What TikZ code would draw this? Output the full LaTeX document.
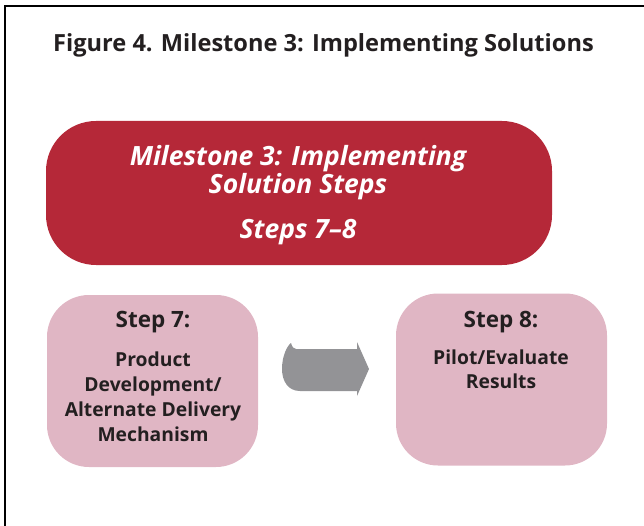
\documentclass[tikz,border=0pt]{standalone}
\usepackage{fontspec}
\setmainfont[Ligatures=NoCommon]{Open Sans}
\usetikzlibrary{positioning}

\definecolor{milestonered}{rgb}{0.710000, 0.157000, 0.220000}
\definecolor{steppink}{rgb}{0.878000, 0.714000, 0.769000}
\definecolor{arrowgray}{rgb}{0.576000, 0.576000, 0.588000}
\definecolor{textdark}{rgb}{0.137000, 0.122000, 0.125000}

\newlength{\du}
\setlength{\du}{1pt}

\tikzset{
  milestonebox/.style={fill=milestonered, draw=none, rounded corners=50\du,
    minimum width=506\du, minimum height=144\du, inner sep=0pt},
  stepbox/.style={fill=steppink, draw=none, rounded corners=42\du,
    minimum width=211\du, minimum height=172\du, inner sep=0pt},
  stephead/.style={anchor=base, inner sep=0pt, text=textdark, font=\bfseries\fontsize{22.5}{26}\selectfont},
  steptext/.style={anchor=north, inner sep=0pt, align=center, text=textdark, font=\bfseries\fontsize{19.3}{25}\selectfont},
}

\begin{document}
\begin{tikzpicture}
\pgftransformxscale{1.000000}
\pgftransformyscale{-1.000000}
\useasboundingbox (0\du,0\du) rectangle (644\du,526\du);
% frame
\draw[line width=2.5\du, color=black] (644\du,6\du)--(5\du,6\du)--(5\du,526\du);
% title
\node[text=textdark, font=\bfseries\fontsize{23.6}{28}\selectfont] (title) at (323.5\du,45\du){Figure 4. Milestone 3: Implementing Solutions};
% milestone box
\node[milestonebox] (milestone) at (299\du,193\du){};
\node[anchor=north, inner sep=0pt, align=center, text=white, font=\bfseries\itshape\fontsize{26.5}{28}\selectfont] (milestonetext) at (298\du,145\du){Milestone 3: Implementing\\Solution Steps\\[17\du]Steps 7--8};
% step boxes
\node[stepbox] (step7) at (152.5\du,381\du){};
\node[stepbox] (step8) at (501.5\du,379.5\du){};
\node[stephead] (step7head) at (153\du,327\du){Step 7:};
\node[steptext] (step7text) at (153\du,352\du){Product\\Development/\\Alternate Delivery\\Mechanism};
\node[stephead] (step8head) at (501\du,327\du){Step 8:};
\node[steptext, font=\bfseries\fontsize{19.3}{23.5}\selectfont] (step8text) at (501\du,350\du){Pilot/Evaluate\\Results};
% arrow
\fill[arrowgray] (296\du,349\du)--(357\du,349\du)--(357\du,342\du)--(369\du,369\du)--(357\du,396\du)--(357\du,391\du)--(300\du,391\du)
  .. controls (288\du,391\du) and (282\du,381\du) .. (282\du,369\du)
  .. controls (282\du,356\du) and (287\du,346\du) .. (291\du,343\du)
  .. controls (292\du,347\du) and (294\du,349\du) .. (296\du,349\du) -- cycle;
\end{tikzpicture}
\end{document}
